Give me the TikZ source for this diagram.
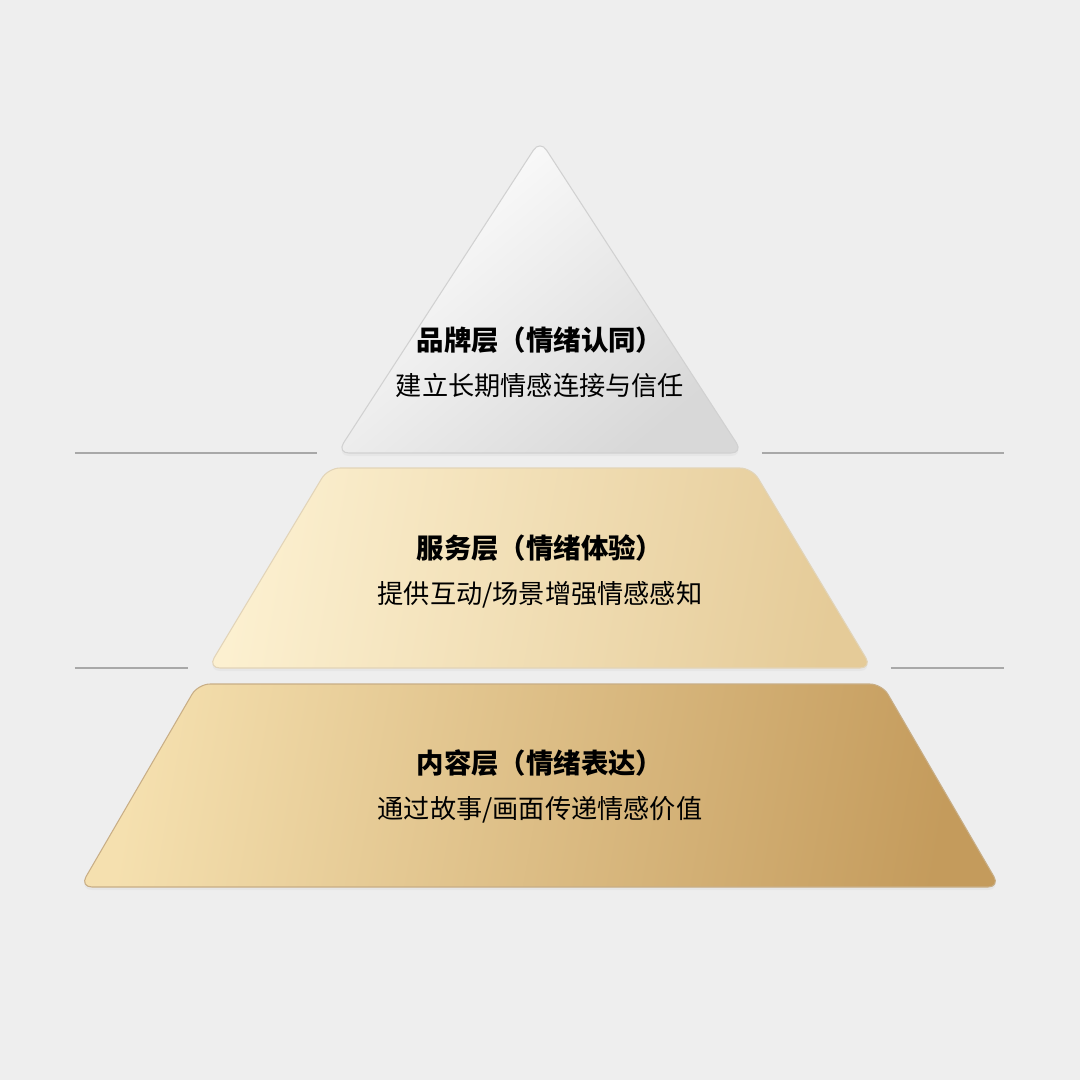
\documentclass[tikz,border=0pt]{standalone}
\usepackage{fontspec}
\newfontfamily\cjk{Noto Sans CJK SC}
\usetikzlibrary{positioning, shadows}

\definecolor{paper}{HTML}{EEEEEE}
\definecolor{rule}{HTML}{A8A8A8}
\definecolor{silverlo}{HTML}{D8D8D8}
\definecolor{creamhi}{HTML}{FCF0D0}
\definecolor{creamlo}{HTML}{E5CB98}
\definecolor{goldhi}{HTML}{F5E0AF}
\definecolor{goldmid}{HTML}{EBD09D}
\definecolor{goldlo}{HTML}{C49B5C}

\begin{document}
\begin{tikzpicture}[x=0.1mm, y=-0.1mm,
	layer/.style={rounded corners=1.2mm, drop shadow={opacity=0.07, shadow xshift=0mm, shadow yshift=-0.3mm}},
	heading/.style={inner sep=0, font=\cjk\bfseries\fontsize{7.8}{9}\selectfont},
	caption/.style={inner sep=0, font=\cjk\fontsize{7.45}{9}\selectfont},
	sep/.style={draw=rule, line width=0.45pt}]

	\fill[paper] (0,0) rectangle (1080,1080);
	\useasboundingbox (0,0) rectangle (1080,1080);

	% separator rules
	\draw[sep] (75,453) -- (317,453) (762,453) -- (1004,453);
	\draw[sep] (75,668) -- (188,668) (891,668) -- (1004,668);

	% layers, top to bottom
	\path[layer, draw=black!18, line width=0.3pt, top color=white, middle color=white!97!black, bottom color=silverlo, shading angle=40]
	(540,140) -- (743,453) -- (337,453) -- cycle;
	\path[layer, draw=creamlo!90!black!60, line width=0.3pt, left color=creamhi, right color=creamlo, shading angle=80]
	(328,468) -- (752,468) -- (872,668) -- (208,668) -- cycle;
	\path[layer, draw=goldlo!90!black!70, line width=0.3pt, left color=goldhi, middle color=goldmid, right color=goldlo, shading angle=80]
	(198,684) -- (882,684) -- (1000,887) -- (80,887) -- cycle;

	\node[heading] (brand) at (540,340) {品牌层（情绪认同）};
	\node[caption, below=1.9mm of brand] (brandtxt) {建立长期情感连接与信任};

	\node[heading] (service) at (540,548) {服务层（情绪体验）};
	\node[caption, below=1.9mm of service] (servicetxt) {提供互动/场景增强情感感知};

	\node[heading] (content) at (540,763) {内容层（情绪表达）};
	\node[caption, below=1.9mm of content] (contenttxt) {通过故事/画面传递情感价值};

\end{tikzpicture}
\end{document}
